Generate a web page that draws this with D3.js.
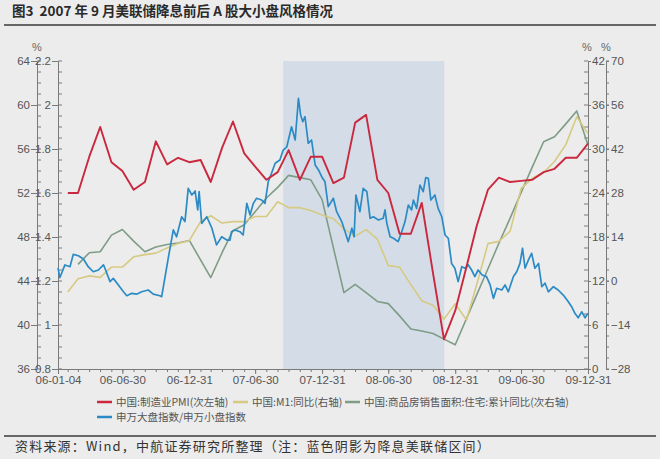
<meta charset="utf-8">
<html>
<head>
<style>
  body { margin: 0; background: #ececec; }
  svg { display: block; }
</style>
</head>
<body>
<div id="chart"></div>
<script src="https://d3js.org/d3.v7.min.js"></script>
<script>
// monthly categories (values plotted at month end)
var months = [
  "2006-01","2006-02","2006-03","2006-04","2006-05","2006-06","2006-07","2006-08","2006-09","2006-10","2006-11","2006-12",
  "2007-01","2007-02","2007-03","2007-04","2007-05","2007-06","2007-07","2007-08","2007-09","2007-10","2007-11","2007-12",
  "2008-01","2008-02","2008-03","2008-04","2008-05","2008-06","2008-07","2008-08","2008-09","2008-10","2008-11","2008-12",
  "2009-01","2009-02","2009-03","2009-04","2009-05","2009-06","2009-07","2009-08","2009-09","2009-10","2009-11","2009-12"
];

// 中国:制造业PMI (次左轴)
var pmi = [
  52.0, 52.0, 55.3, 58.0, 54.8, 54.0, 52.3, 53.0, 56.7, 54.6, 55.2, 54.8,
  55.0, 53.0, 56.1, 58.5, 55.6, 54.4, 53.2, 53.9, 55.9, 53.2, 55.3, 55.3,
  52.9, 53.4, 58.4, 59.1, 53.2, 52.0, 48.3, 48.3, 51.1, 44.7, 38.7, 41.3,
  45.3, 49.0, 52.3, 53.4, 53.0, 53.1, 53.2, 53.9, 54.2, 55.2, 55.2, 56.5
];

// 中国:M1:同比 (右轴)
var m1 = [
  10.5, 12.3, 12.7, 12.5, 13.9, 13.9, 15.3, 15.6, 15.8, 16.5, 17.1, 17.5,
  20.1, 20.9, 19.9, 20.1, 20.1, 20.8, 20.8, 22.8, 22.0, 22.0, 21.6, 21.0,
  20.5, 19.1, 18.1, 19.0, 17.7, 14.1, 13.9, 11.5, 9.3, 8.7, 6.8, 8.9,
  6.7, 11.5, 17.1, 17.4, 18.8, 24.6, 26.0, 26.8, 28.3, 30.6, 34.4, 32.1
];

// 中国:商品房销售面积:住宅:累计同比 (次右轴), no January figure
var housing = [
  null, 5.3, 9.0, 9.3, 14.6, 16.4, 12.7, 9.3, 10.8, 11.6, 12.1, 12.9,
  null, 1.1, 9.0, 16.0, 17.9, 22.0, 26.4, 29.8, 33.6, 32.9, 32.2, 25.9,
  null, -3.7, -1.1, -3.7, -6.5, -7.2, -11.1, -15.3, -15.9, -16.7, -18.5, -20.3,
  null, -4.4, 3.9, 12.0, 20.0, 28.1, 36.3, 44.3, 45.9, 50.0, 54.1, 43.3
];

// 申万大盘指数/申万小盘指数 (左轴)
var ratioDates = [
  "2006-01-04","2006-01-09","2006-01-23","2006-02-06","2006-02-15","2006-03-01","2006-03-15","2006-03-28",
  "2006-04-11","2006-04-25","2006-05-09","2006-05-13","2006-05-27","2006-06-05","2006-06-19","2006-07-03",
  "2006-07-12","2006-07-26","2006-08-08","2006-08-22","2006-09-09","2006-09-23","2006-10-11","2006-10-16",
  "2006-11-03","2006-11-17","2006-11-26","2006-12-10","2006-12-19","2006-12-28","2007-01-07","2007-01-16",
  "2007-01-23","2007-01-27","2007-02-03","2007-02-17","2007-03-03","2007-03-16","2007-03-30","2007-04-13",
  "2007-04-22","2007-04-26","2007-05-06","2007-05-19","2007-05-28","2007-06-07","2007-06-16","2007-06-25",
  "2007-07-04","2007-07-18","2007-07-27","2007-08-05","2007-08-14","2007-08-24","2007-09-06","2007-09-15",
  "2007-09-25","2007-10-08","2007-10-18","2007-10-27","2007-11-02","2007-11-08","2007-11-14","2007-11-23",
  "2007-12-02","2007-12-12","2007-12-21","2007-12-30","2008-01-08","2008-01-17","2008-01-31","2008-02-09",
  "2008-02-23","2008-03-03","2008-03-12","2008-03-22","2008-03-28","2008-04-02","2008-04-13","2008-04-22",
  "2008-05-02","2008-05-11","2008-05-20","2008-06-03","2008-06-16","2008-06-21","2008-06-26","2008-07-05",
  "2008-07-14","2008-07-27","2008-08-06","2008-08-15","2008-08-24","2008-09-02","2008-09-07","2008-09-16",
  "2008-09-25","2008-10-04","2008-10-11","2008-10-18","2008-10-25","2008-11-05","2008-11-14","2008-11-24",
  "2008-12-03","2008-12-12","2008-12-21","2008-12-30","2009-01-08","2009-01-18","2009-01-27","2009-02-05",
  "2009-02-14","2009-02-23","2009-03-04","2009-03-15","2009-03-27","2009-04-06","2009-04-15","2009-04-24",
  "2009-05-08","2009-05-17","2009-05-26","2009-06-09","2009-06-18","2009-06-27","2009-07-04","2009-07-11",
  "2009-07-20","2009-07-29","2009-08-07","2009-08-17","2009-08-26","2009-09-04","2009-09-13","2009-09-27",
  "2009-10-10","2009-10-24","2009-11-07","2009-11-16","2009-11-25","2009-12-04","2009-12-14","2009-12-23",
  "2009-12-31"
];
var ratioValues = [
  1.26, 1.215, 1.273, 1.265, 1.321, 1.315, 1.300, 1.265,
  1.242, 1.25, 1.273, 1.258, 1.197, 1.212, 1.182, 1.151,
  1.133, 1.144, 1.14, 1.151, 1.159, 1.14, 1.133, 1.129,
  1.303, 1.432, 1.401, 1.492, 1.470, 1.621, 1.591, 1.609,
  1.523, 1.606, 1.462, 1.492, 1.44, 1.364, 1.401, 1.386,
  1.386, 1.424, 1.432, 1.424, 1.409, 1.553, 1.5, 1.553,
  1.576, 1.568, 1.553, 1.651, 1.69, 1.735, 1.75, 1.795,
  1.81, 1.901, 1.841, 2.03, 1.955, 1.924, 1.947, 1.826,
  1.841, 1.727, 1.705, 1.674, 1.651, 1.538, 1.576, 1.515,
  1.47, 1.424, 1.379, 1.44, 1.401, 1.591, 1.515, 1.621,
  1.606, 1.485, 1.492, 1.477, 1.485, 1.523, 1.462, 1.401,
  1.394, 1.379, 1.424, 1.47, 1.545, 1.523, 1.568, 1.53,
  1.636, 1.606, 1.67, 1.667, 1.568, 1.591, 1.53, 1.492,
  1.409, 1.394, 1.28, 1.258, 1.197, 1.265, 1.258, 1.273,
  1.25, 1.22, 1.25, 1.227, 1.22, 1.182, 1.121, 1.167,
  1.159, 1.182, 1.151, 1.22, 1.242, 1.28, 1.349, 1.258,
  1.295, 1.326, 1.258, 1.28, 1.174, 1.19, 1.151, 1.174,
  1.159, 1.136, 1.106, 1.083, 1.053, 1.033, 1.06, 1.033,
  1.053
];

var xTickLabels = ["06-01-04","06-06-30","06-12-31","07-06-30","07-12-31","08-06-30","08-12-31","09-06-30","09-12-31"];
var xTickDates = ["2006-01-04","2006-06-30","2006-12-31","2007-06-30","2007-12-31","2008-06-30","2008-12-31","2009-06-30","2009-12-31"];
var pmiTicks = [36, 40, 44, 48, 52, 56, 60, 64];
var ratioTicks = [0.8, 1, 1.2, 1.4, 1.6, 1.8, 2, 2.2];
var m1Ticks = [0, 6, 12, 18, 24, 30, 36, 42];
var housingTicks = [-28, -14, 0, 14, 28, 42, 56, 70];
var shadeRange = ["2007-09-15", "2008-12-01"];

var seriesNames = ["中国:制造业PMI(次左轴)", "中国:M1:同比(右轴)", "中国:商品房销售面积:住宅:累计同比(次右轴)", "申万大盘指数/申万小盘指数"];
var colors = ["#c9283f", "#d6ca82", "#7e9c86", "#2b8bc6"];

var W = 660, H = 459;
var plot = {left: 58, right: 588, top: 61, bottom: 369};
var numFont = "'Liberation Sans', Arial, sans-serif";
var cjkFont = "'Noto Sans CJK SC', sans-serif";

var parse = d3.timeParse("%Y-%m-%d");
var parseMonth = d3.timeParse("%Y-%m");
function monthEnd(s) { return d3.timeDay.offset(d3.timeMonth.offset(parseMonth(s), 1), -1); }

var svg = d3.select("#chart").append("svg")
    .attr("width", W).attr("height", H);

svg.append("rect").attr("width", W).attr("height", H).attr("fill", "#ececec");

// title
svg.append("text")
    .attr("x", 12).attr("y", 16)
    .attr("font-family", cjkFont).attr("font-weight", "bold")
    .attr("font-size", 13.5).attr("fill", "#2a2a2a")
    .style("white-space", "pre")
    .text("图3  2007 年 9 月美联储降息前后 A 股大小盘风格情况");
svg.append("line").attr("x1", 4).attr("x2", 656).attr("y1", 25).attr("y2", 25)
    .attr("stroke", "#3a3a3a").attr("stroke-width", 1.3);

// scales
var x = d3.scaleTime()
    .domain([parse("2006-01-04"), parse("2009-12-31")])
    .range([plot.left, plot.right]);
var yPmi = d3.scaleLinear().domain([36, 64]).range([plot.bottom, plot.top]);
var yRatio = d3.scaleLinear().domain([0.8, 2.2]).range([plot.bottom, plot.top]);
var yM1 = d3.scaleLinear().domain([0, 42]).range([plot.bottom, plot.top]);
var yHouse = d3.scaleLinear().domain([-28, 70]).range([plot.bottom, plot.top]);

// shaded rate-cut period
svg.append("rect")
    .attr("x", x(parse(shadeRange[0])))
    .attr("width", x(parse(shadeRange[1])) - x(parse(shadeRange[0])))
    .attr("y", plot.top).attr("height", plot.bottom - plot.top)
    .attr("fill", "#d4dde7");

// axes
function styleAxis(g) {
  g.selectAll("path, line").attr("stroke", "#7a7a7a");
  g.selectAll("text").attr("fill", "#555").attr("font-family", numFont).attr("font-size", 11.5);
}
function minorTicks(xPos, scale, step, lo, hi, len) {
  var vals = d3.range(lo, hi + step / 2, step);
  svg.append("g").selectAll("line").data(vals).join("line")
      .attr("x1", xPos).attr("x2", xPos + len)
      .attr("y1", function(d) { return scale(d); })
      .attr("y2", function(d) { return scale(d); })
      .attr("stroke", "#7a7a7a");
}

svg.append("g").attr("transform", "translate(37,0)")
    .call(d3.axisLeft(yPmi).tickValues(pmiTicks).tickSize(6).tickPadding(1).tickSizeOuter(0))
    .call(styleAxis);
minorTicks(37, yPmi, 1, 36, 64, 4);

svg.append("g").attr("transform", "translate(" + plot.left + ",0)")
    .call(d3.axisLeft(yRatio).tickValues(ratioTicks).tickFormat(function(d) { return d; })
      .tickSize(6).tickPadding(1).tickSizeOuter(0))
    .call(styleAxis);
minorTicks(plot.left, yRatio, 0.05, 0.8, 2.2, 4);

svg.append("g").attr("transform", "translate(" + plot.right + ",0)")
    .call(d3.axisRight(yM1).tickValues(m1Ticks).tickSize(3).tickPadding(1).tickSizeOuter(0))
    .call(styleAxis);
minorTicks(plot.right, yM1, 1.5, 0, 42, -4);

svg.append("g").attr("transform", "translate(606,0)")
    .call(d3.axisRight(yHouse).tickValues(housingTicks).tickSize(3).tickPadding(2).tickSizeOuter(0))
    .call(styleAxis);
minorTicks(606, yHouse, 3.5, -28, 70, 3);

// % units
[[37, "%"], [587, "%"], [606, "%"]].forEach(function(u) {
  svg.append("text").attr("x", u[0]).attr("y", 51)
      .attr("text-anchor", "middle").attr("font-family", numFont)
      .attr("font-size", 11).attr("fill", "#666").text(u[1]);
});

// x axis
svg.append("g").attr("transform", "translate(0," + plot.bottom + ")")
    .call(d3.axisBottom(x)
      .tickValues(xTickDates.map(parse))
      .tickFormat(function(d, i) { return xTickLabels[i]; })
      .tickSize(5).tickPadding(2).tickSizeOuter(0))
    .call(styleAxis);
svg.append("g").selectAll("line")
    .data(d3.timeMonth.range(parse("2006-02-01"), parse("2009-12-31")))
    .join("line")
    .attr("x1", function(d) { return x(d); }).attr("x2", function(d) { return x(d); })
    .attr("y1", plot.bottom).attr("y2", plot.bottom + 3)
    .attr("stroke", "#7a7a7a");

// lines
var monthDates = months.map(monthEnd);

function drawMonthly(values, scale, color, width) {
  var data = monthDates.map(function(d, i) { return [d, values[i]]; })
      .filter(function(p) { return p[1] !== null; });
  svg.append("path").datum(data)
      .attr("fill", "none").attr("stroke", color).attr("stroke-width", width)
      .attr("stroke-linejoin", "round")
      .attr("d", d3.line()
        .x(function(d) { return x(d[0]); })
        .y(function(d) { return scale(d[1]); }));
}

drawMonthly(housing, yHouse, colors[2], 1.6);
drawMonthly(m1, yM1, colors[1], 1.6);

var ratio = ratioDates.map(function(d, i) { return [parse(d), ratioValues[i]]; });
svg.append("path").datum(ratio)
    .attr("fill", "none").attr("stroke", colors[3]).attr("stroke-width", 1.7)
    .attr("stroke-linejoin", "round")
    .attr("d", d3.line()
      .x(function(d) { return x(d[0]); })
      .y(function(d) { return yRatio(d[1]); }));

drawMonthly(pmi, yPmi, colors[0], 1.9);

// legend
var legendPos = [[97, 402], [233, 402], [345, 402], [97, 417]];
legendPos.forEach(function(p, i) {
  svg.append("line").attr("x1", p[0]).attr("x2", p[0] + 15)
      .attr("y1", p[1]).attr("y2", p[1])
      .attr("stroke", colors[i]).attr("stroke-width", 2.5);
  svg.append("text").attr("x", p[0] + 19).attr("y", p[1] + 3.5)
      .attr("font-family", cjkFont).attr("font-size", 10.5).attr("fill", "#555")
      .text(seriesNames[i]);
});

// source
svg.append("line").attr("x1", 4).attr("x2", 656).attr("y1", 436).attr("y2", 436)
    .attr("stroke", "#3a3a3a").attr("stroke-width", 1.3);
svg.append("text").attr("x", 15).attr("y", 451)
    .attr("font-family", cjkFont).attr("font-size", 13).attr("fill", "#333")
    .attr("letter-spacing", 1.2)
    .text("资料来源：Wind，中航证券研究所整理（注：蓝色阴影为降息美联储区间）");
</script>
</body>
</html>
